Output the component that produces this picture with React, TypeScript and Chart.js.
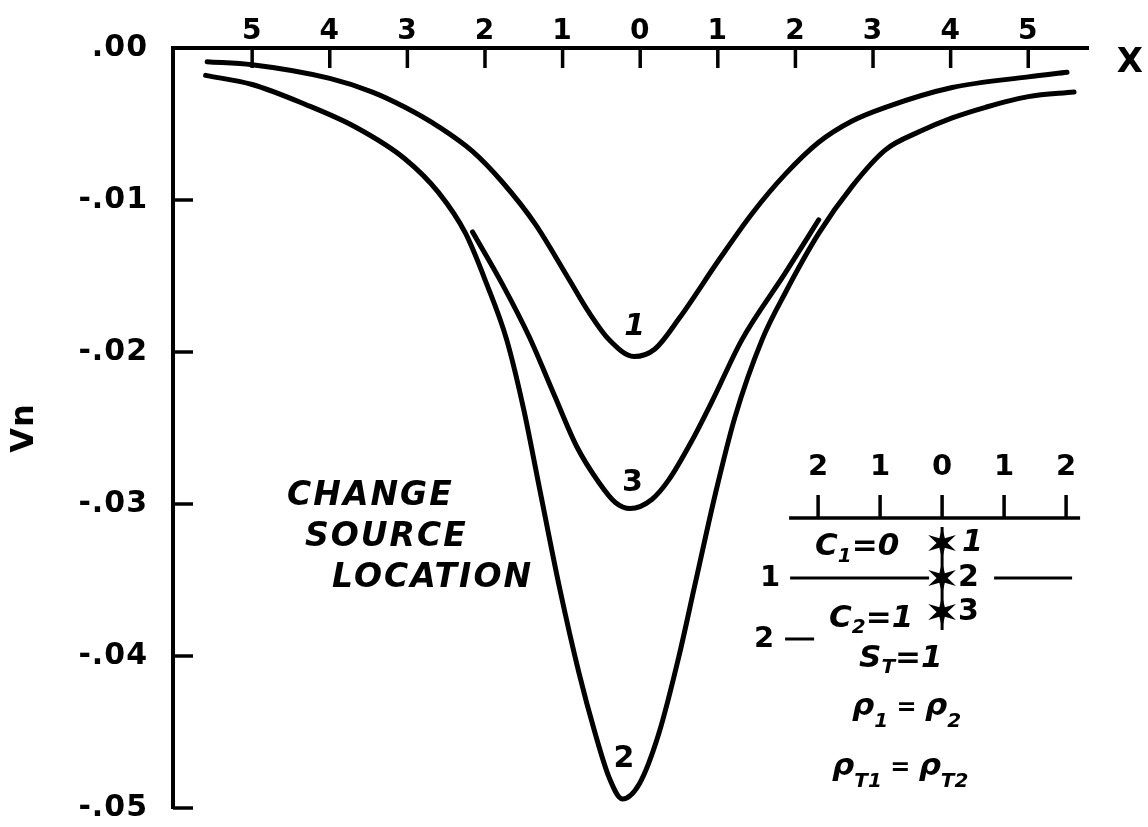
import React, { useEffect, useRef } from "react";
import { Chart, registerables } from "chart.js";

Chart.register(...registerables);

// Curve 1 (upper curve)
const curve1X = [-5.58, -5.0, -4.0, -3.45, -3.03, -2.59, -2.16, -1.78, -1.35, -0.92, -0.66, -0.4, -0.08, 0.19, 0.5, 1.02, 1.44, 1.87, 2.3, 2.73, 3.16, 4.02, 5.0, 5.5];
const curve1Y = [-0.0009, -0.0011, -0.002, -0.0029, -0.0039, -0.0052, -0.0068, -0.0088, -0.0116, -0.0152, -0.0174, -0.0192, -0.0203, -0.0198, -0.0178, -0.0139, -0.0109, -0.0083, -0.0062, -0.0048, -0.0039, -0.0026, -0.0019, -0.0016];

// Curve 2 (deepest curve)
const curve2X = [-5.6, -5.0, -4.32, -3.67, -3.03, -2.6, -2.25, -1.98, -1.72, -1.5, -1.3, -1.04, -0.79, -0.58, -0.4, -0.23, -0.01, 0.24, 0.5, 0.71, 0.97, 1.22, 1.57, 1.87, 2.3, 2.73, 3.16, 3.6, 4.02, 4.45, 5.0, 5.59];
const curve2Y = [-0.0018, -0.0024, -0.0037, -0.0052, -0.0073, -0.0095, -0.0122, -0.0155, -0.0192, -0.0238, -0.0289, -0.0355, -0.0411, -0.0451, -0.048, -0.0494, -0.0484, -0.0451, -0.04, -0.0352, -0.0293, -0.0243, -0.0192, -0.0161, -0.0122, -0.0091, -0.0067, -0.0055, -0.0046, -0.0039, -0.0032, -0.0029];

// Curve 3 (middle curve)
const curve3X = [-2.16, -1.78, -1.43, -1.11, -0.82, -0.53, -0.32, -0.13, 0.15, 0.37, 0.67, 0.93, 1.31, 1.87, 2.3];
const curve3Y = [-0.0121, -0.0155, -0.019, -0.0228, -0.0262, -0.0286, -0.0299, -0.0303, -0.0297, -0.0284, -0.0258, -0.0232, -0.0192, -0.0148, -0.0113];

// Curve numbers written beside each minimum
const curveNames = ["1", "2", "3"];
const curveLabelX = [-0.07, -0.21, -0.1];
const curveLabelY = [-0.0184, -0.0468, -0.0286];

// Axes
const xTickValues = [-5, -4, -3, -2, -1, 0, 1, 2, 3, 4, 5];
const yTickValues = [0, -0.01, -0.02, -0.03, -0.04, -0.05];
const insetTickLabels = ["2", "1", "0", "1", "2"];
const noteLines = ["CHANGE", "SOURCE", "LOCATION"];

const FONT = '"DejaVu Sans", "Liberation Sans", sans-serif';

type Run = { t: string; size: number; dy?: number };

function drawRuns(ctx: CanvasRenderingContext2D, x: number, y: number, runs: Run[]) {
  let cx = x;
  for (const r of runs) {
    ctx.font = `italic bold ${r.size}px ${FONT}`;
    ctx.fillText(r.t, cx, y + (r.dy || 0));
    cx += ctx.measureText(r.t).width;
  }
}

function drawStar(ctx: CanvasRenderingContext2D, cx: number, cy: number) {
  ctx.beginPath();
  for (let i = 0; i < 12; i++) {
    const a = -Math.PI / 2 + (i * Math.PI) / 6;
    const r = i % 2 === 0 ? 16 : 5.5;
    const px = cx + r * Math.cos(a);
    const py = cy + r * Math.sin(a);
    if (i === 0) ctx.moveTo(px, py);
    else ctx.lineTo(px, py);
  }
  ctx.closePath();
  ctx.fill();
}

function line(ctx: CanvasRenderingContext2D, x1: number, y1: number, x2: number, y2: number) {
  ctx.beginPath();
  ctx.moveTo(x1, y1);
  ctx.lineTo(x2, y2);
  ctx.stroke();
}

const figurePlugin = {
  id: "figureExtras",
  beforeDraw(chart: any) {
    chart.ctx.letterSpacing = "1px";
  },
  afterDraw(chart: any) {
    const { ctx, chartArea } = chart;
    const xs = chart.scales.x;
    const ys = chart.scales.y;
    ctx.save();
    ctx.letterSpacing = "0px";
    ctx.fillStyle = "#000";
    ctx.strokeStyle = "#000";
    ctx.lineCap = "butt";

    // inward tick marks on both axes
    ctx.lineWidth = 3.5;
    for (const v of yTickValues) {
      if (v === 0) continue;
      const py = ys.getPixelForValue(v);
      line(ctx, chartArea.left, py, chartArea.left + 20, py);
    }
    for (const v of xTickValues) {
      const px = xs.getPixelForValue(v);
      line(ctx, px, chartArea.top, px, chartArea.top + 20);
    }

    // axis name at the right end of the distance axis
    ctx.textAlign = "center";
    ctx.textBaseline = "middle";
    ctx.font = `bold 34px ${FONT}`;
    ctx.fillText("X", xs.getPixelForValue(6.31), ys.getPixelForValue(-0.001));

    // curve numbers
    curveNames.forEach((name, i) => {
      ctx.font = `${name === "1" ? "italic " : ""}bold 30px ${FONT}`;
      ctx.fillText(name, xs.getPixelForValue(curveLabelX[i]), ys.getPixelForValue(curveLabelY[i]));
    });

    // note text
    ctx.textAlign = "left";
    ctx.letterSpacing = "2px";
    ctx.font = `italic bold 33px ${FONT}`;
    const noteX = [-4.55, -4.32, -3.97];
    const noteY = [-0.0295, -0.0322, -0.0349];
    noteLines.forEach((t, i) => {
      ctx.fillText(t, xs.getPixelForValue(noteX[i]), ys.getPixelForValue(noteY[i]));
    });
    ctx.letterSpacing = "0px";

    // inset sketch of source positions
    const ix = xs.getPixelForValue(3.89);
    const iy = ys.getPixelForValue(-0.03092);
    ctx.lineWidth = 3.5;
    line(ctx, ix - 153, iy, ix + 138, iy);
    insetTickLabels.forEach((lab, k) => {
      const tx = ix + (k - 2) * 62;
      line(ctx, tx, iy, tx, iy - 23);
      ctx.textAlign = "center";
      ctx.textBaseline = "middle";
      ctx.font = `bold 29px ${FONT}`;
      ctx.fillText(lab, tx, iy - 51);
    });

    ctx.lineWidth = 3;
    line(ctx, ix, iy + 9, ix, iy + 112);
    const starY = [25, 60, 94];
    starY.forEach((dy) => drawStar(ctx, ix, iy + dy));
    ctx.textAlign = "left";
    ctx.textBaseline = "middle";
    ctx.font = `italic bold 30px ${FONT}`;
    ctx.fillText("1", ix + 20, iy + 25);
    ctx.font = `bold 30px ${FONT}`;
    ctx.fillText("2", ix + 16, iy + 60);
    ctx.fillText("3", ix + 16, iy + 94);

    // layer boundaries
    ctx.lineWidth = 3;
    ctx.textAlign = "center";
    ctx.font = `bold 29px ${FONT}`;
    ctx.fillText("1", ix - 172, iy + 60);
    line(ctx, ix - 152, iy + 60, ix - 13, iy + 60);
    line(ctx, ix + 52, iy + 60, ix + 130, iy + 60);
    ctx.fillText("2", ix - 178, iy + 121);
    line(ctx, ix - 157, iy + 121, ix - 128, iy + 121);

    // model parameters
    ctx.textAlign = "left";
    ctx.textBaseline = "alphabetic";
    drawRuns(ctx, ix - 127, iy + 37, [{ t: "C", size: 31 }, { t: "1", size: 20, dy: 7 }, { t: "=0", size: 31 }]);
    drawRuns(ctx, ix - 113, iy + 109, [{ t: "C", size: 31 }, { t: "2", size: 20, dy: 6 }, { t: "=1", size: 31 }]);
    drawRuns(ctx, ix - 83, iy + 149, [{ t: "S", size: 31 }, { t: "T", size: 20, dy: 6 }, { t: "=1", size: 31 }]);
    drawRuns(ctx, ix - 90, iy + 197, [{ t: "ρ", size: 31 }, { t: "1", size: 20, dy: 12 }, { t: " = ", size: 24 }, { t: "ρ", size: 31 }, { t: "2", size: 20, dy: 12 }]);
    drawRuns(ctx, ix - 110, iy + 257, [{ t: "ρ", size: 31 }, { t: "T1", size: 20, dy: 12 }, { t: " = ", size: 24 }, { t: "ρ", size: 31 }, { t: "T2", size: 20, dy: 12 }]);

    ctx.restore();
  },
};

function toPoints(xs: number[], ys: number[]) {
  return xs.map((x, i) => ({ x, y: ys[i] }));
}

function formatVn(v: number) {
  if (Math.abs(v) < 1e-9) return ".00";
  return "-." + String(Math.round(-v * 100)).padStart(2, "0");
}

export default function App() {
  const canvasRef = useRef<HTMLCanvasElement | null>(null);

  useEffect(() => {
    if (!canvasRef.current) return;
    const lineStyle = {
      borderColor: "#000",
      borderWidth: 5,
      pointRadius: 0,
      fill: false,
      cubicInterpolationMode: "monotone" as const,
      borderCapStyle: "round" as const,
      borderJoinStyle: "round" as const,
    };
    const chart = new Chart(canvasRef.current, {
      type: "line",
      data: {
        datasets: [
          { label: curveNames[0], data: toPoints(curve1X, curve1Y), ...lineStyle },
          { label: curveNames[1], data: toPoints(curve2X, curve2Y), ...lineStyle },
          { label: curveNames[2], data: toPoints(curve3X, curve3Y), ...lineStyle },
        ],
      },
      options: {
        animation: false,
        responsive: false,
        layout: { autoPadding: false, padding: { left: 0, top: 0, right: 60, bottom: 19 } },
        plugins: { legend: { display: false }, tooltip: { enabled: false } },
        scales: {
          x: {
            type: "linear",
            position: "top",
            min: -6.02,
            max: 5.77,
            afterBuildTicks: (s: any) => {
              s.ticks = xTickValues.map((v) => ({ value: v }));
            },
            afterFit: (s: any) => {
              s.height = 48;
              s.paddingLeft = 0;
              s.paddingRight = 0;
            },
            grid: { display: false },
            border: { display: true, color: "#000", width: 4 },
            ticks: {
              color: "#000",
              font: { family: FONT, size: 28, weight: "bold" },
              padding: -9,
              maxRotation: 0,
              autoSkip: false,
              callback: (v: any) => String(Math.abs(Number(v))),
            },
          },
          y: {
            type: "linear",
            min: -0.05,
            max: 0,
            afterBuildTicks: (s: any) => {
              s.ticks = yTickValues.map((v) => ({ value: v }));
            },
            afterFit: (s: any) => {
              s.width = 173;
              s.paddingTop = 0;
              s.paddingBottom = 0;
            },
            grid: { display: false },
            border: { display: true, color: "#000", width: 4 },
            ticks: {
              color: "#000",
              font: { family: FONT, size: 30, weight: "bold" },
              padding: 17,
              autoSkip: false,
              callback: (v: any) => formatVn(Number(v)),
            },
            title: {
              display: true,
              text: "Vn",
              color: "#000",
              font: { family: FONT, size: 32, weight: "bold" },
              padding: { top: 5, bottom: 0 },
            },
          },
        },
      },
      plugins: [figurePlugin],
    });
    return () => chart.destroy();
  }, []);

  return (
    <div style={{ position: "fixed", left: 0, top: 0, width: 1148, height: 827, background: "#fff" }}>
      <canvas ref={canvasRef} width={1148} height={827} style={{ display: "block" }} />
    </div>
  );
}
